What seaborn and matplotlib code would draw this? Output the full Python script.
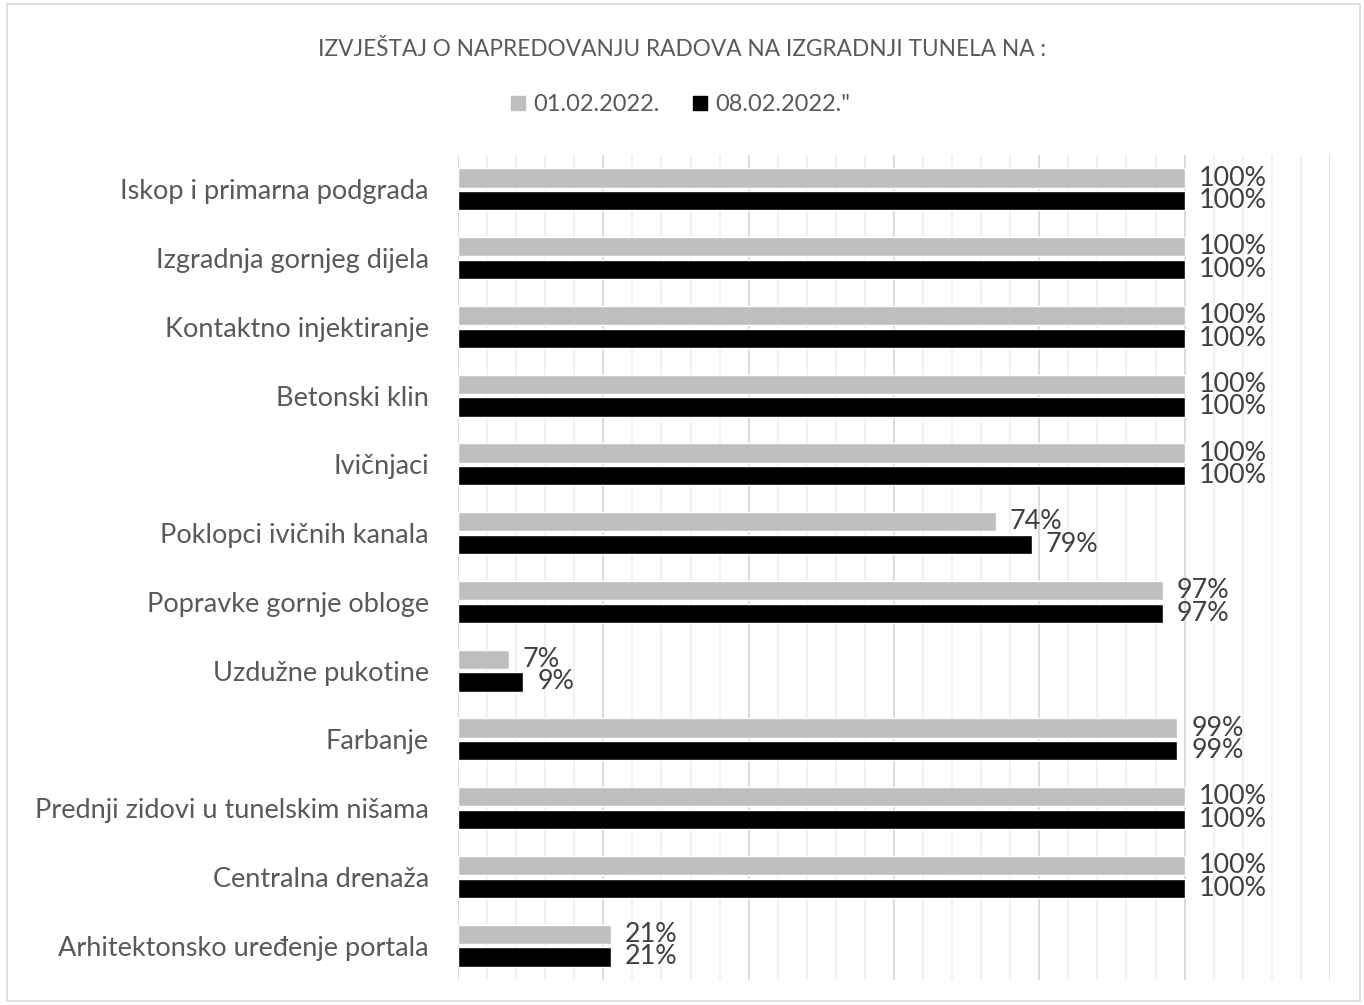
import matplotlib
matplotlib.use("Agg")
import matplotlib.pyplot as plt
import seaborn as sns
import pandas as pd
from matplotlib.patches import Rectangle
from matplotlib.ticker import MultipleLocator

# --- data ---
categories = [
    "Iskop i primarna podgrada",
    "Izgradnja gornjeg dijela",
    "Kontaktno injektiranje",
    "Betonski klin",
    "Ivičnjaci",
    "Poklopci ivičnih kanala",
    "Popravke gornje obloge",
    "Uzdužne pukotine",
    "Farbanje",
    "Prednji zidovi u tunelskim nišama",
    "Centralna drenaža",
    "Arhitektonsko uređenje portala",
]
week_1 = [1.00, 1.00, 1.00, 1.00, 1.00, 0.74, 0.97, 0.07, 0.99, 1.00, 1.00, 0.21]
week_2 = [1.00, 1.00, 1.00, 1.00, 1.00, 0.79, 0.97, 0.09, 0.99, 1.00, 1.00, 0.21]
series_names = ["01.02.2022.", "08.02.2022.\""]
title = "IZVJEŠTAJ O NAPREDOVANJU RADOVA NA IZGRADNJI TUNELA NA :"

df = pd.DataFrame({
    "kategorija": categories * 2,
    "vrijednost": week_1 + week_2,
    "datum": [series_names[0]] * len(categories) + [series_names[1]] * len(categories),
})

sns.set_theme(style="white")
plt.rcParams["font.family"] = ["Lato", "DejaVu Sans"]

fig = plt.figure(figsize=(13.64, 10.05), dpi=100)
ax = fig.add_axes([0.3358, 0.0249, 0.975 - 0.3358, 0.8209])

sns.barplot(
    data=df, y="kategorija", x="vrijednost", hue="datum",
    palette=["#bfbfbf", "#000000"], orient="h", width=0.66, gap=0.15,
    ax=ax, legend=False, saturation=1,
)

ax.set_xlim(0, 1.2)
ax.set_ylim(11.5, -0.5)
ax.xaxis.set_major_locator(MultipleLocator(0.2))
ax.xaxis.set_minor_locator(MultipleLocator(0.04))
ax.grid(axis="x", which="major", color="#d9d9d9", linewidth=1.3)
ax.grid(axis="x", which="minor", color="#f0f0f0", linewidth=1.3)
ax.set_axisbelow(True)
for s in ax.spines.values():
    s.set_visible(False)
ax.tick_params(axis="x", which="both", bottom=False, labelbottom=False)
ax.tick_params(axis="y", length=0, pad=21, labelsize=19.5, labelcolor="#595959")
ax.set_xlabel("")
ax.set_ylabel("")

for cont in ax.containers:
    labels = [f"{v * 100:.0f}%" for v in cont.datavalues]
    ax.bar_label(cont, labels=labels, padding=10, fontsize=19.4, color="#404040")

fig.text(0.5, 0.951, title, ha="center", va="center", fontsize=16.3, color="#595959")

# legend drawn as square markers
handles = [plt.Line2D([], [], marker="s", linestyle="", markersize=10,
                      markerfacecolor=c, markeredgecolor=c)
           for c in ["#bfbfbf", "#000000"]]
fig.legend(handles, series_names, loc="center", bbox_to_anchor=(0.4975, 0.896),
           ncol=2, frameon=False, fontsize=17, handletextpad=0.15,
           handlelength=1.0, columnspacing=1.2, labelcolor="#595959")

fig.patches.append(Rectangle((0.005, 0.004), 0.992, 0.992, transform=fig.transFigure,
                             fill=False, edgecolor="#d9d9d9", linewidth=1.2))

fig.savefig("out.png", dpi=100)
